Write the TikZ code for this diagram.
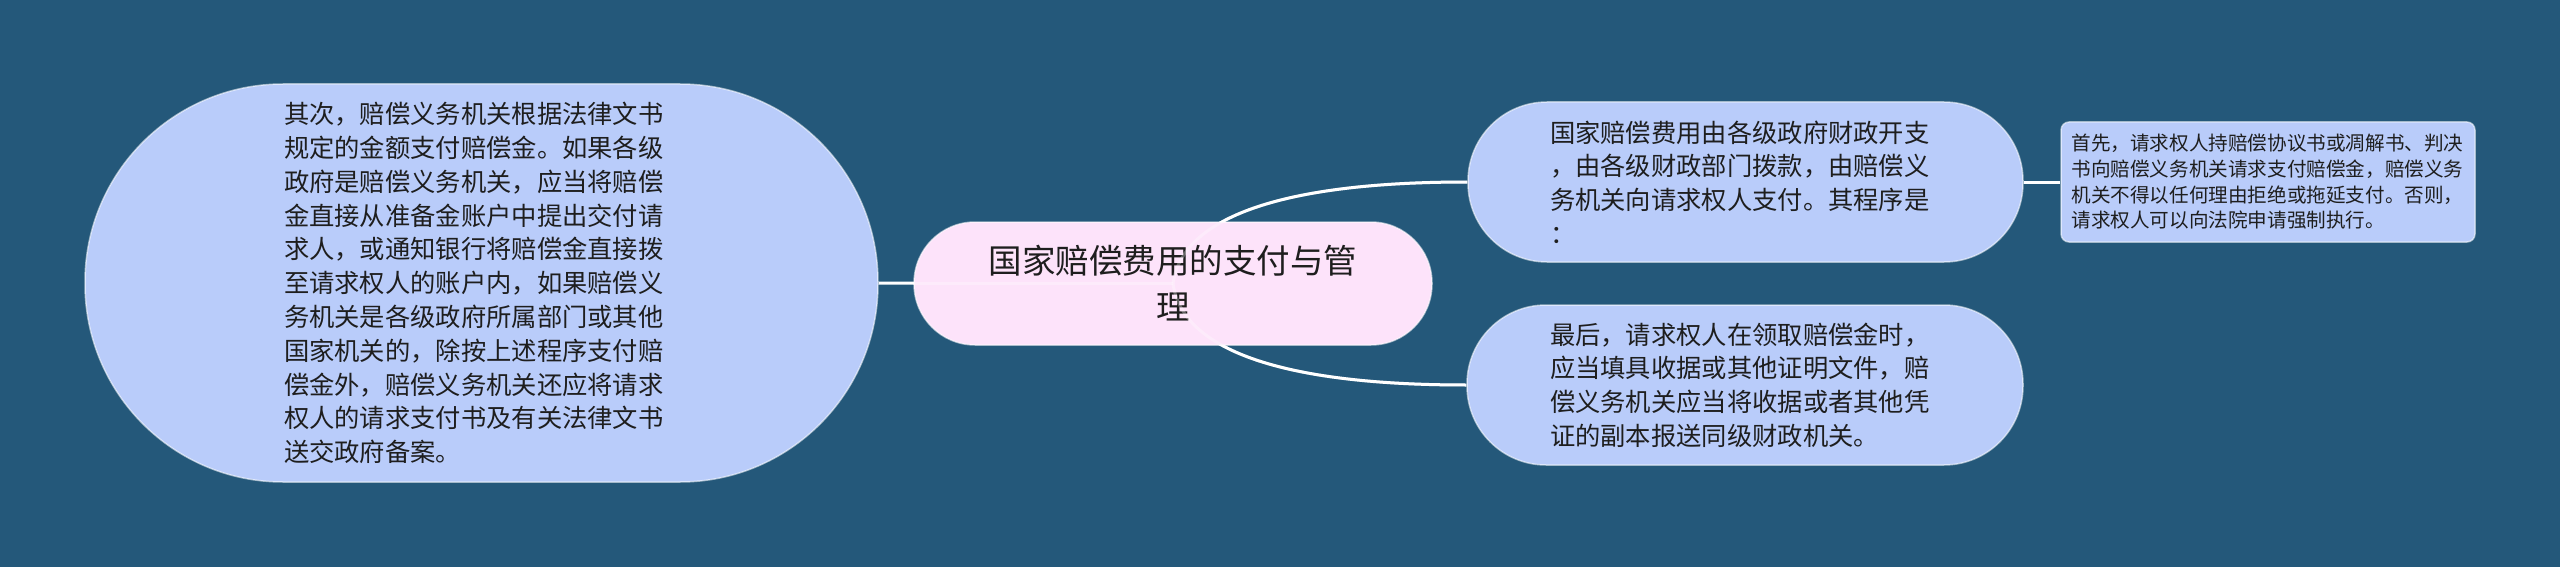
\documentclass[tikz,border=0pt]{standalone}
\usepackage{fontspec}
\newfontfamily\cjk{Noto Sans CJK SC}
\pgfdeclarelayer{bg}
\pgfdeclarelayer{conn}
\pgfsetlayers{bg,conn,main}
\definecolor{bgblue}{RGB}{36,88,122}
\definecolor{nodeblue}{RGB}{185,204,250}
\definecolor{nodepink}{RGB}{253,227,250}
\definecolor{txt}{RGB}{30,30,30}
\tikzset{
  box/.style={rectangle, draw=white, draw opacity=0.55, line width=1.5pt, text=txt, inner sep=0pt},
  conn/.style={draw=white, line width=3pt},
  bigtxt/.style={font=\cjk\fontsize{25.3}{33.8}\selectfont, align=left},
}
\begin{document}
\begin{tikzpicture}[x=1pt,y=1pt]
\useasboundingbox (0,0) rectangle (2560,-567);
\begin{pgfonlayer}{bg}
  \fill[bgblue] (0,0) rectangle (2560,-567);
\end{pgfonlayer}

\node[box, bigtxt, fill=nodeblue, text width=395pt, minimum width=793pt, minimum height=398pt, rounded corners=198pt] (left) at (481.5,-283)
{其次，赔偿义务机关根据法律文书\\规定的金额支付赔偿金。如果各级\\政府是赔偿义务机关，应当将赔偿\\金直接从准备金账户中提出交付请\\求人，或通知银行将赔偿金直接拨\\至请求权人的账户内，如果赔偿义\\务机关是各级政府所属部门或其他\\国家机关的，除按上述程序支付赔\\偿金外，赔偿义务机关还应将请求\\权人的请求支付书及有关法律文书\\送交政府备案。};

\node[box, fill=nodepink, minimum width=518pt, minimum height=123pt, rounded corners=61pt, align=center, font=\cjk\fontsize{33.5}{46}\selectfont] (center) at (1173,-283.5)
{国家赔偿费用的支付与管\\理};

\node[box, bigtxt, fill=nodeblue, text width=391pt, minimum width=555pt, minimum height=160pt, rounded corners=79pt] (tr) at (1745.5,-182)
{国家赔偿费用由各级政府财政开支\\，由各级财政部门拨款，由赔偿义\\务机关向请求权人支付。其程序是\\：};

\node[box, bigtxt, fill=nodeblue, text width=390pt, minimum width=556pt, minimum height=160pt, rounded corners=79pt] (br) at (1745,-385)
{最后，请求权人在领取赔偿金时，\\应当填具收据或其他证明文件，赔\\偿义务机关应当将收据或者其他凭\\证的副本报送同级财政机关。};

\node[box, fill=nodeblue, text width=393pt, minimum width=414pt, minimum height=120pt, rounded corners=8pt, align=left, font=\cjk\fontsize{19.6}{25.7}\selectfont] (fr) at (2268,-182)
{首先，请求权人持赔偿协议书或凋解书、判决\\书向赔偿义务机关请求支付赔偿金，赔偿义务\\机关不得以任何理由拒绝或拖延支付。否则，\\请求权人可以向法院申请强制执行。};

\begin{pgfonlayer}{conn}
  \draw[conn] (center.center) -- (left.east);
  \draw[conn] (center.center) .. controls +(7,53) and +(-218,0) .. (tr.west);
  \draw[conn] (center.center) .. controls +(7,-53) and +(-218,0) .. (br.west);
  \draw[conn] (tr.east) -- (fr.west);
\end{pgfonlayer}
\draw[conn, draw opacity=0.3] (center.center) -- (center.west);
\draw[conn, draw opacity=0.3] (center.center) .. controls +(7,53) and +(-218,0) .. (tr.west);
\draw[conn, draw opacity=0.3] (center.center) .. controls +(7,-53) and +(-218,0) .. (br.west);
\end{tikzpicture}
\end{document}
